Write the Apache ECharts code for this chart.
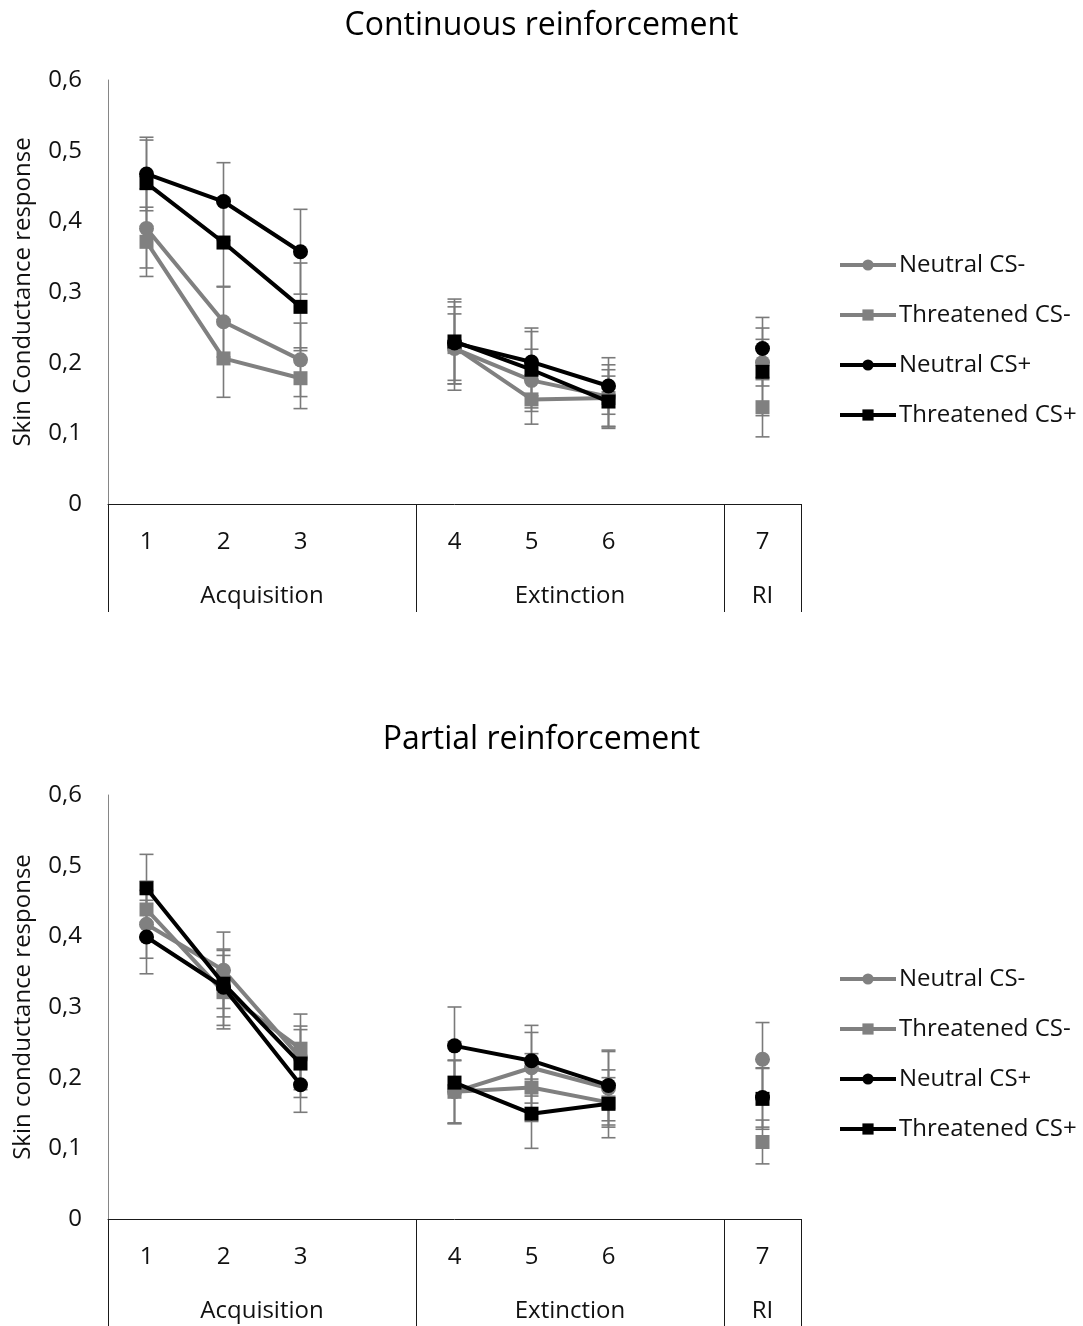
<!DOCTYPE html>
<html>
<head>
<meta charset="utf-8">
<script src="https://cdn.jsdelivr.net/npm/echarts@6/dist/echarts.min.js"></script>
<style>
html,body{margin:0;padding:0;background:#fff;}
#chart{width:1083px;height:1326px;}
</style>
</head>
<body>
<div id="chart"></div>
<script>
// ---- data ----
const categories = ['1', '2', '3', '', '4', '5', '6', '', '7'];
const groupNames = ['Acquisition', 'Extinction', 'RI'];
const groupSizes = [4, 4, 1];
const seriesNames = ['Neutral CS-', 'Threatened CS-', 'Neutral CS+', 'Threatened CS+'];
const panelTitles = ['Continuous reinforcement', 'Partial reinforcement'];
const yAxisNames = ['Skin Conductance response', 'Skin conductance response'];

// Continuous reinforcement
const contNeutralMinus = [0.390, 0.258, 0.204, null, 0.220, 0.175, 0.152, null, 0.200];
const contThreatMinus  = [0.371, 0.206, 0.178, null, 0.222, 0.148, 0.150, null, 0.137];
const contNeutralPlus  = [0.467, 0.428, 0.357, null, 0.228, 0.201, 0.167, null, 0.220];
const contThreatPlus   = [0.454, 0.370, 0.279, null, 0.230, 0.190, 0.145, null, 0.187];
const contNeutralMinusErr = [0.056, 0.050, 0.052, null, 0.059, 0.044, 0.045, null, 0.033];
const contThreatMinusErr  = [0.049, 0.055, 0.043, null, 0.047, 0.035, 0.040, null, 0.042];
const contNeutralPlusErr  = [0.052, 0.055, 0.060, null, 0.058, 0.048, 0.040, null, 0.044];
const contThreatPlusErr   = [0.061, 0.063, 0.062, null, 0.060, 0.054, 0.036, null, 0.062];

// Partial reinforcement
const partNeutralMinus = [0.417, 0.352, 0.228, null, 0.180, 0.214, 0.185, null, 0.226];
const partThreatMinus  = [0.438, 0.321, 0.241, null, 0.180, 0.186, 0.165, null, 0.109];
const partNeutralPlus  = [0.399, 0.328, 0.190, null, 0.245, 0.224, 0.189, null, 0.172];
const partThreatPlus   = [0.468, 0.333, 0.220, null, 0.193, 0.149, 0.163, null, 0.170];
const partNeutralMinusErr = [0.048, 0.054, 0.045, null, 0.044, 0.050, 0.052, null, 0.052];
const partThreatMinusErr  = [0.040, 0.052, 0.049, null, 0.045, 0.048, 0.035, null, 0.031];
const partNeutralPlusErr  = [0.052, 0.054, 0.039, null, 0.055, 0.050, 0.050, null, 0.042];
const partThreatPlusErr   = [0.048, 0.047, 0.048, null, 0.058, 0.049, 0.048, null, 0.043];

const panels = [
  { values: [contNeutralMinus, contThreatMinus, contNeutralPlus, contThreatPlus],
    errors: [contNeutralMinusErr, contThreatMinusErr, contNeutralPlusErr, contThreatPlusErr] },
  { values: [partNeutralMinus, partThreatMinus, partNeutralPlus, partThreatPlus],
    errors: [partNeutralMinusErr, partThreatMinusErr, partNeutralPlusErr, partThreatPlusErr] }
];

// ---- styles ----
const FONT = '"Open Sans"';
const FS = 24;
const GRAY = '#808080';
const TXT = '#111';
const colors = [GRAY, GRAY, '#000000', '#000000'];
const symbols = ['circle', 'rect', 'circle', 'rect'];
const gridTops = [80, 795];
const gridHeight = 424;

// group boundaries & centres derived from group sizes
const boundaries = [];
const centres = [];
let acc = 0;
groupSizes.forEach(s => { boundaries.push(acc); centres.push(acc + s / 2); acc += s; });

const chart = echarts.init(document.getElementById('chart'));

const option = {
  animation: false,
  backgroundColor: '#fff',
  textStyle: { fontFamily: FONT },
  title: panelTitles.map((t, p) => ({
    text: t, left: 'center', top: p === 0 ? 5 : 719,
    textStyle: { fontFamily: FONT, fontSize: 32, fontWeight: 'normal', color: '#000' }
  })),
  legend: [0, 1].map(p => ({
    data: seriesNames,
    orient: 'vertical',
    left: 833,
    top: p === 0 ? 247 : 961,
    itemWidth: 56, itemHeight: 14, itemGap: 24,
    lineStyle: { width: 4 },
    textStyle: { fontFamily: FONT, fontSize: FS, color: TXT, lineHeight: 26, padding: [0, 0, 0, -2] }
  })),
  grid: gridTops.map(t => ({ left: 108, width: 693, top: t, height: gridHeight })),
  xAxis: [],
  yAxis: [],
  series: []
};

[0, 1].forEach(p => {
  option.xAxis.push({
    type: 'category', gridIndex: p, data: categories, boundaryGap: true,
    axisLine: { lineStyle: { color: '#1a1a1a', width: 1 } },
    axisTick: { show: true, length: 108, interval: (i) => boundaries.includes(i),
      lineStyle: { color: '#1a1a1a', width: 1 } },
    axisLabel: { interval: 0, fontSize: FS, color: TXT, margin: 26, fontFamily: FONT },
    splitLine: { show: false }
  });
  option.xAxis.push({
    type: 'value', gridIndex: p, position: 'bottom', min: 0, max: acc,
    axisLine: { show: false }, axisTick: { show: false }, splitLine: { show: false },
    axisLabel: { customValues: centres, fontSize: FS, color: TXT, margin: 80, fontFamily: FONT,
      formatter: (v) => groupNames[centres.indexOf(v)] }
  });
  option.yAxis.push({
    type: 'value', gridIndex: p, min: 0, max: 0.6, interval: 0.1,
    name: yAxisNames[p], nameLocation: 'middle', nameGap: 73, nameRotate: 90,
    nameTextStyle: { fontSize: FS, color: TXT, fontFamily: FONT },
    axisLine: { show: true, lineStyle: { color: '#868686', width: 1 } },
    axisTick: { show: false },
    splitLine: { show: false },
    axisLabel: { fontSize: FS, color: TXT, margin: 26, fontFamily: FONT,
      formatter: (v) => String(Math.round(v * 10) / 10).replace('.', ',') }
  });
});

[0, 1].forEach(p => {
  const panel = panels[p];
  // error bars first (under the lines)
  panel.values.forEach((vals, s) => {
    const errs = panel.errors[s];
    const data = [];
    vals.forEach((v, i) => { if (v != null) data.push([i, v - errs[i], v + errs[i]]); });
    option.series.push({
      type: 'custom', name: 'err-' + p + '-' + s,
      xAxisIndex: p * 2, yAxisIndex: p, z: 1,
      encode: { x: 0, y: [1, 2] },
      data: data,
      renderItem: (params, api) => {
        const lo = api.coord([api.value(0), api.value(1)]);
        const hi = api.coord([api.value(0), api.value(2)]);
        const hw = 7;
        const st = { stroke: '#7a7a7a', lineWidth: 1.6 };
        return { type: 'group', children: [
          { type: 'line', shape: { x1: lo[0], y1: lo[1], x2: hi[0], y2: hi[1] }, style: st },
          { type: 'line', shape: { x1: lo[0] - hw, y1: lo[1], x2: lo[0] + hw, y2: lo[1] }, style: st },
          { type: 'line', shape: { x1: hi[0] - hw, y1: hi[1], x2: hi[0] + hw, y2: hi[1] }, style: st }
        ]};
      }
    });
  });
  panel.values.forEach((vals, s) => {
    option.series.push({
      type: 'line', name: seriesNames[s],
      xAxisIndex: p * 2, yAxisIndex: p, z: 2 + s,
      data: vals, connectNulls: false,
      symbol: symbols[s], symbolSize: s % 2 === 0 ? 15 : 14, showSymbol: true,
      itemStyle: { color: colors[s] },
      lineStyle: { color: colors[s], width: 4 }
    });
  });
});

chart.setOption(option);
</script>
</body>
</html>
